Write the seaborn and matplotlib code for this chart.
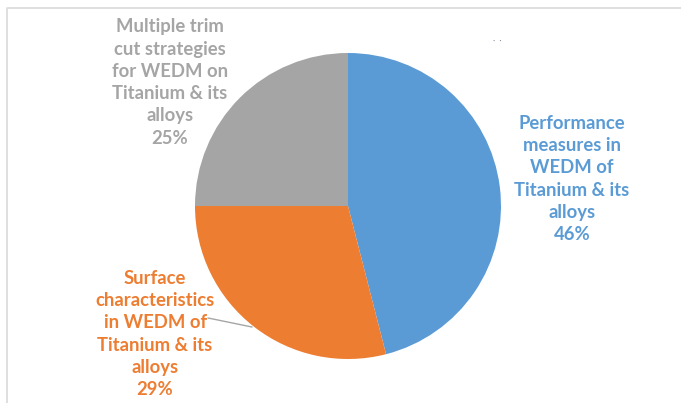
import matplotlib
matplotlib.use("Agg")
import matplotlib.pyplot as plt
import seaborn as sns
import pandas as pd
from matplotlib.lines import Line2D

# Topics and their share of the reviewed literature
topics = [
    "Performance\nmeasures in\nWEDM of\nTitanium & its\nalloys",
    "Surface\ncharacteristics\nin WEDM of\nTitanium & its\nalloys",
    "Multiple trim\ncut strategies\nfor WEDM on\nTitanium & its\nalloys",
]
shares = [46, 29, 25]
colors = ["#5B9BD5", "#ED7D31", "#A5A5A5"]
text_colors = ["#5B9BD5", "#ED7D31", "#A5A5A5"]

df = pd.DataFrame({"topic": topics, "share": shares})

sns.set_theme(style="white")
plt.rcParams["font.family"] = ["Lato", "DejaVu Sans"]

W, H = 681, 403
fig = plt.figure(figsize=(W / 100, H / 100), dpi=100)
ax = fig.add_axes([0, 0, 1, 1])

wedges, _ = ax.pie(
    df["share"],
    colors=colors,
    startangle=90,
    counterclock=False,
    radius=1.0,
    wedgeprops=dict(linewidth=0),
)

# pie centre at (348, 206) px, radius 153 px
cx, cy, r = 348, 206, 153
ax.set_xlim(-cx / r, (W - cx) / r)
ax.set_ylim(-(H - cy) / r, cy / r)
ax.set_aspect("auto")
ax.axis("off")

# label anchor points (data units)
label_pos = [(1.464, 0.176), (-1.261, -0.837), (-1.163, 0.807)]
for (x, y), t, s, c in zip(label_pos, df["topic"], df["share"], text_colors):
    ax.text(x, y, f"{t}\n{s}%", ha="center", va="center", color=c,
            fontsize=13.3, fontweight="bold", linespacing=1.375)

# leader line for the lower-left label
ax.add_line(Line2D([-0.915, -0.627], [-0.732, -0.791], color="#A6A6A6", lw=1.0))

# faint marks in the upper right area
ax.text((493 - cx) / r, (cy - 40) / r, "·  ·", color="#7f8a99", fontsize=6,
        ha="left", va="center")

# chart-area border (top and left)
fig.add_artist(Line2D([8 / W, 1], [1 - 8 / H, 1 - 8 / H], color="#D9D9D9", lw=1.2,
                      transform=fig.transFigure))
fig.add_artist(Line2D([7 / W, 7 / W], [0, 1 - 8 / H], color="#D9D9D9", lw=1.2,
                      transform=fig.transFigure))

fig.savefig("out.png", dpi=100, facecolor="white")
